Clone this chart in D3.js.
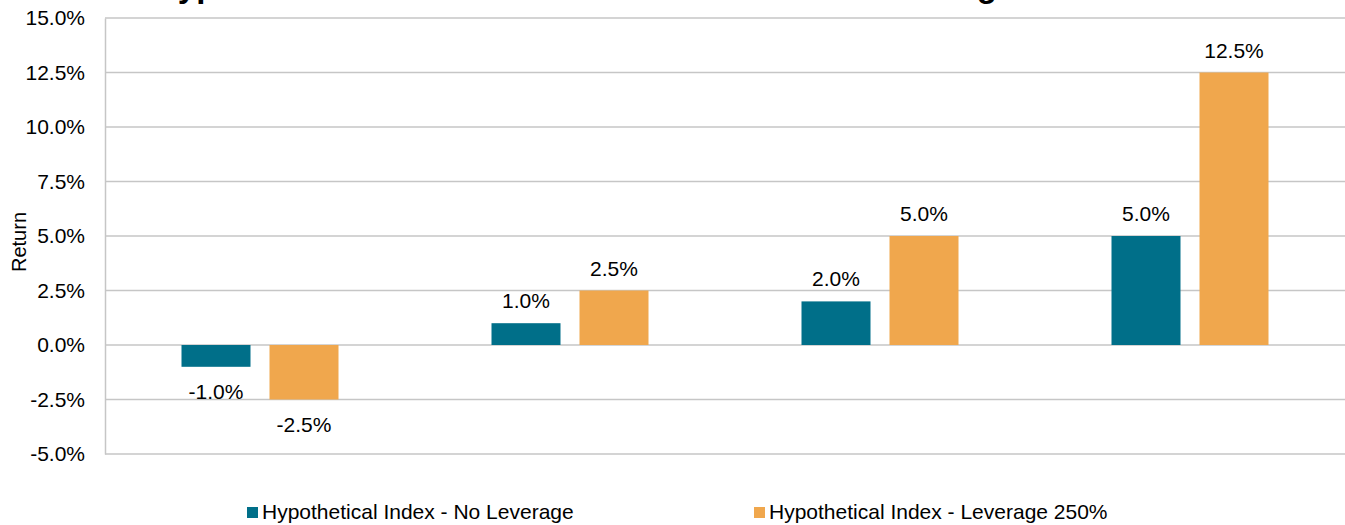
<!DOCTYPE html>
<html>
<head>
<meta charset="utf-8">
<script src="https://cdn.jsdelivr.net/npm/d3@7"></script>
<style>
  body { margin: 0; background: #fff; }
  text { font-family: "Liberation Sans", Arial, sans-serif; fill: #000; }
</style>
</head>
<body>
<div id="chart"></div>
<script>
// chart data
var categories = ['A', 'B', 'C', 'D']
var seriesNames = ['Hypothetical Index - No Leverage', 'Hypothetical Index - Leverage 250%']
var noLeverage = [-1.0, 1.0, 2.0, 5.0]
var leverage250 = [-2.5, 2.5, 5.0, 12.5]
var yTicks = [-5, -2.5, 0, 2.5, 5, 7.5, 10, 12.5, 15]
var colors = ['#006f89', '#f0a74d']
var title = 'Hypothetical Index Returns With and Without Leverage'

var width = 1345
var height = 525
var margin = { top: 18, right: 0, bottom: 71, left: 105 }

var svg = d3.select('#chart')
  .append('svg')
  .attr('width', width)
  .attr('height', height)

// title is mostly cut off by the top edge, as in the reference
svg.append('text')
  .attr('x', 154)
  .attr('y', -3)
  .attr('font-size', 33)
  .attr('font-weight', 'bold')
  .text(title)

var x0 = d3.scaleBand()
  .domain(categories)
  .range([margin.left, width - margin.right])

var x1 = d3.scaleBand()
  .domain([0, 1])
  .range([x0.bandwidth() / 2 - 78.5, x0.bandwidth() / 2 + 78.5])
  .paddingInner(19 / 88)

var y = d3.scaleLinear()
  .domain([-5, 15])
  .range([height - margin.bottom, margin.top])

// grid lines
svg.append('g')
  .selectAll('line')
  .data(yTicks)
  .enter()
  .append('line')
  .attr('x1', margin.left)
  .attr('x2', width - margin.right)
  .attr('y1', function (d) { return y(d) })
  .attr('y2', function (d) { return y(d) })
  .attr('stroke', '#c6c6c6')
  .attr('stroke-width', 1.5)

// left axis
var yAxis = svg.append('g')
  .attr('transform', 'translate(' + margin.left + ',0)')
  .call(d3.axisLeft(y).tickValues(yTicks).tickSize(0).tickPadding(20)
    .tickFormat(function (d) { return d.toFixed(1) + '%' }))
yAxis.select('.domain').attr('stroke', '#c6c6c6').attr('stroke-width', 1.5)
yAxis.selectAll('text')
  .attr('font-size', 21)
  .style('font-family', '"Liberation Sans", Arial, sans-serif')
  .attr('fill', '#000')

svg.append('text')
  .attr('transform', 'translate(26,' + 242 + ') rotate(-90)')
  .attr('text-anchor', 'middle')
  .attr('font-size', 20)
  .text('Return')

// bars
var rows = categories.map(function (c, i) {
  return { cat: c, values: [noLeverage[i], leverage250[i]] }
})

var groups = svg.append('g')
  .selectAll('g')
  .data(rows)
  .enter()
  .append('g')
  .attr('transform', function (d) { return 'translate(' + x0(d.cat) + ',0)' })

groups.selectAll('rect')
  .data(function (d) { return d.values })
  .enter()
  .append('rect')
  .attr('x', function (d, i) { return x1(i) })
  .attr('width', x1.bandwidth())
  .attr('y', function (d) { return Math.min(y(d), y(0)) })
  .attr('height', function (d) { return Math.abs(y(d) - y(0)) })
  .attr('fill', function (d, i) { return colors[i] })

groups.selectAll('text')
  .data(function (d) { return d.values })
  .enter()
  .append('text')
  .attr('x', function (d, i) { return x1(i) + x1.bandwidth() / 2 })
  .attr('y', function (d) { return d >= 0 ? y(d) - 15 : y(d) + 32 })
  .attr('text-anchor', 'middle')
  .attr('font-size', 21)
  .text(function (d) { return d.toFixed(1) + '%' })

// legend
var legendX = [247, 754]
var legend = svg.append('g')
  .selectAll('g')
  .data(seriesNames)
  .enter()
  .append('g')
  .attr('transform', function (d, i) { return 'translate(' + legendX[i] + ',507)' })

legend.append('rect')
  .attr('width', 11)
  .attr('height', 11)
  .attr('fill', function (d, i) { return colors[i] })

legend.append('text')
  .attr('x', 15)
  .attr('y', 12)
  .attr('font-size', 21)
  .text(function (d) { return d })
</script>
</body>
</html>
